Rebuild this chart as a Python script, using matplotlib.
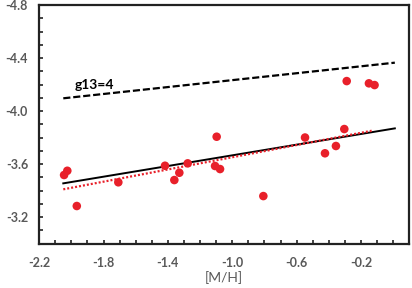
import matplotlib
matplotlib.use("Agg")
import matplotlib.pyplot as plt
from matplotlib.ticker import MultipleLocator, FixedLocator

plt.rcParams['font.family'] = ['Lato', 'DejaVu Sans']

# Data
mh = [-2.045, -2.025, -1.966, -1.708, -1.418, -1.360, -1.329, -1.277,
      -1.097, -1.107, -1.076, -0.807, -0.548, -0.424, -0.356, -0.304,
      -0.289, -0.151, -0.116]
g = [-3.517, -3.549, -3.283, -3.462, -3.587, -3.479, -3.534, -3.605,
     -3.806, -3.585, -3.562, -3.358, -3.800, -3.681, -3.736, -3.864,
     -4.226, -4.209, -4.196]

# Fit lines (end points)
solid_x = [-2.05, 0.01]
solid_y = [-3.454, -3.869]
dotted_x = [-2.05, -0.134]
dotted_y = [-3.409, -3.851]
dashed_x = [-2.05, 0.01]
dashed_y = [-4.096, -4.365]
dashed_label = "g13=4"

x_major = [-2.2, -1.8, -1.4, -1.0, -0.6, -0.2]
y_major = [-4.8, -4.4, -4.0, -3.6, -3.2]

fig = plt.figure(figsize=(4.12, 2.88), dpi=100)
ax = fig.add_axes([0.095, 0.1545, 0.8985, 0.828])

red = '#E8202A'
ax.plot(dashed_x, dashed_y, color='black', lw=1.6, linestyle=(0, (3.2, 1.3)))
ax.plot(solid_x, solid_y, color='black', lw=1.4)
ax.plot(dotted_x, dotted_y, color=red, lw=1.6, linestyle=(0, (0.9, 0.9)))
ax.scatter(mh, g, s=38, color=red, edgecolors='none', zorder=3)

ax.text(-1.978, -4.2, dashed_label, fontsize=10, fontweight='bold',
        color='black', ha='left', va='center')

ax.set_xlim(-2.2, 0.1)
ax.set_ylim(-3.0, -4.8)
ax.xaxis.set_major_locator(FixedLocator(x_major))
ax.yaxis.set_major_locator(FixedLocator(y_major))
ax.xaxis.set_minor_locator(MultipleLocator(0.1))
ax.yaxis.set_minor_locator(MultipleLocator(0.1))
ax.set_xticklabels([f"{v:.1f}" for v in x_major])
ax.set_yticklabels([f"{v:.1f}" for v in y_major])

ax.tick_params(which='both', direction='in', length=3, width=1.2, color='#222222')
ax.tick_params(which='major', labelsize=9, labelcolor='#595959')
ax.tick_params(axis='x', which='major', pad=10)
ax.tick_params(axis='y', which='major', pad=8)
for lab in ax.get_xticklabels() + ax.get_yticklabels():
    lab.set_fontweight('bold')

for sp in ax.spines.values():
    sp.set_linewidth(1.6)
    sp.set_color('#222222')

ax.set_xlabel('[M/H]', fontsize=10, color='#595959', labelpad=1)

fig.savefig('out.png', dpi=100)
